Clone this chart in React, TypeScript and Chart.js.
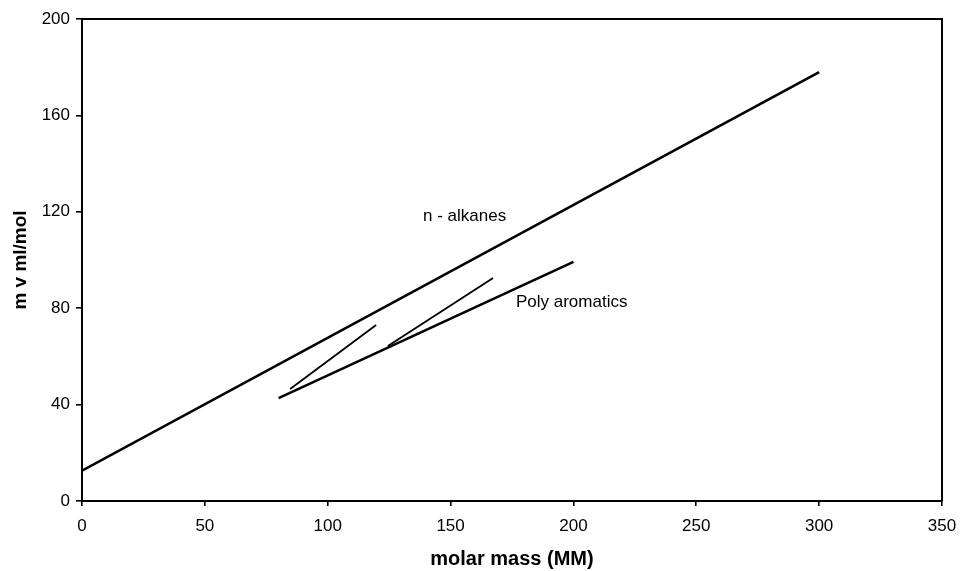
import React, { useEffect, useRef } from "react";
import { Chart, registerables } from "chart.js";

Chart.register(...registerables);

// Data (molar mass vs molar volume)
const nAlkanesX = [0, 300];
const nAlkanesY = [12.6, 178];
const polyAromaticsX = [80, 200];
const polyAromaticsY = [42.7, 99.2];
const branch1X = [84.7, 119.7];
const branch1Y = [46.5, 73];
const branch2X = [124.5, 167.3];
const branch2Y = [64.3, 92.5];

const xTicks = [0, 50, 100, 150, 200, 250, 300, 350];
const yTicks = [0, 40, 80, 120, 160, 200];

const labelTexts = ["n - alkanes", "Poly aromatics"];
const labelX = [138.8, 176.6];
const labelY = [116, 80.6];

const xTitle = "molar mass (MM)";
const yTitle = "m v ml/mol";

const FONT = "'Liberation Sans', Arial, sans-serif";

function pts(xs: number[], ys: number[]) {
  return xs.map((x, i) => ({ x, y: ys[i] }));
}

export default function App() {
  const ref = useRef<HTMLCanvasElement | null>(null);

  useEffect(() => {
    if (!ref.current) return;

    const boxPlugin = {
      id: "boxAndLabels",
      afterDatasetsDraw(chart: any) {
        const { ctx, chartArea, scales } = chart;
        ctx.save();
        ctx.strokeStyle = "#000";
        ctx.lineWidth = 2;
        ctx.beginPath();
        ctx.moveTo(chartArea.left, chartArea.top);
        ctx.lineTo(chartArea.right, chartArea.top);
        ctx.lineTo(chartArea.right, chartArea.bottom);
        ctx.stroke();
        ctx.fillStyle = "#000";
        ctx.font = `17px ${FONT}`;
        ctx.textAlign = "left";
        ctx.textBaseline = "alphabetic";
        labelTexts.forEach((t, i) => {
          ctx.fillText(
            t,
            scales.x.getPixelForValue(labelX[i]),
            scales.y.getPixelForValue(labelY[i])
          );
        });
        ctx.restore();
      },
    };

    const mainLine = { borderColor: "#000", borderWidth: 2.6, pointRadius: 0, showLine: true, fill: false };
    const thinLine = { borderColor: "#000", borderWidth: 1.8, pointRadius: 0, showLine: true, fill: false };

    const chart = new Chart(ref.current, {
      type: "scatter",
      data: {
        datasets: [
          { label: "n - alkanes", data: pts(nAlkanesX, nAlkanesY), ...mainLine },
          { label: "Poly aromatics", data: pts(polyAromaticsX, polyAromaticsY), ...mainLine },
          { label: "branch 1", data: pts(branch1X, branch1Y), ...thinLine },
          { label: "branch 2", data: pts(branch2X, branch2Y), ...thinLine },
        ],
      },
      options: {
        animation: false,
        responsive: false,
        maintainAspectRatio: false,
        layout: { padding: { top: 19, right: 19, left: 0, bottom: 0 } },
        plugins: {
          legend: { display: false },
          tooltip: { enabled: false },
        },
        scales: {
          x: {
            type: "linear",
            min: 0,
            max: 350,
            afterFit(scale: any) {
              scale.height = 70;
              scale.paddingLeft = 0;
              scale.paddingRight = 0;
            },
            afterBuildTicks(scale: any) {
              scale.ticks = xTicks.map((v) => ({ value: v }));
            },
            ticks: {
              color: "#000",
              font: { family: FONT, size: 17 },
              padding: 10,
              maxRotation: 0,
            },
            grid: {
              display: true,
              drawOnChartArea: false,
              drawTicks: true,
              tickLength: 5,
              color: "#000",
              lineWidth: 1.6,
            },
            border: { display: true, color: "#000", width: 2 },
            title: {
              display: true,
              text: xTitle,
              color: "#000",
              font: { family: FONT, size: 20, weight: "bold" },
              padding: { top: 4, bottom: 0 },
            },
          },
          y: {
            type: "linear",
            min: 0,
            max: 200,
            afterFit(scale: any) {
              scale.width = 82;
              scale.paddingTop = 0;
              scale.paddingBottom = 0;
            },
            afterBuildTicks(scale: any) {
              scale.ticks = yTicks.map((v) => ({ value: v }));
            },
            ticks: {
              color: "#000",
              font: { family: FONT, size: 17 },
              padding: 6,
            },
            grid: {
              display: true,
              drawOnChartArea: false,
              drawTicks: true,
              tickLength: 6,
              color: "#000",
              lineWidth: 1.6,
            },
            border: { display: true, color: "#000", width: 2 },
            title: {
              display: true,
              text: yTitle,
              color: "#000",
              font: { family: FONT, size: 19, weight: "bold" },
              padding: { top: 9, bottom: 0 },
            },
          },
        },
      },
      plugins: [boxPlugin],
    });

    return () => chart.destroy();
  }, []);

  return (
    <div style={{ position: "fixed", left: 0, top: 0, width: 961, height: 571, background: "#fff" }}>
      <canvas ref={ref} width={961} height={571} style={{ display: "block", width: 961, height: 571 }} />
    </div>
  );
}
